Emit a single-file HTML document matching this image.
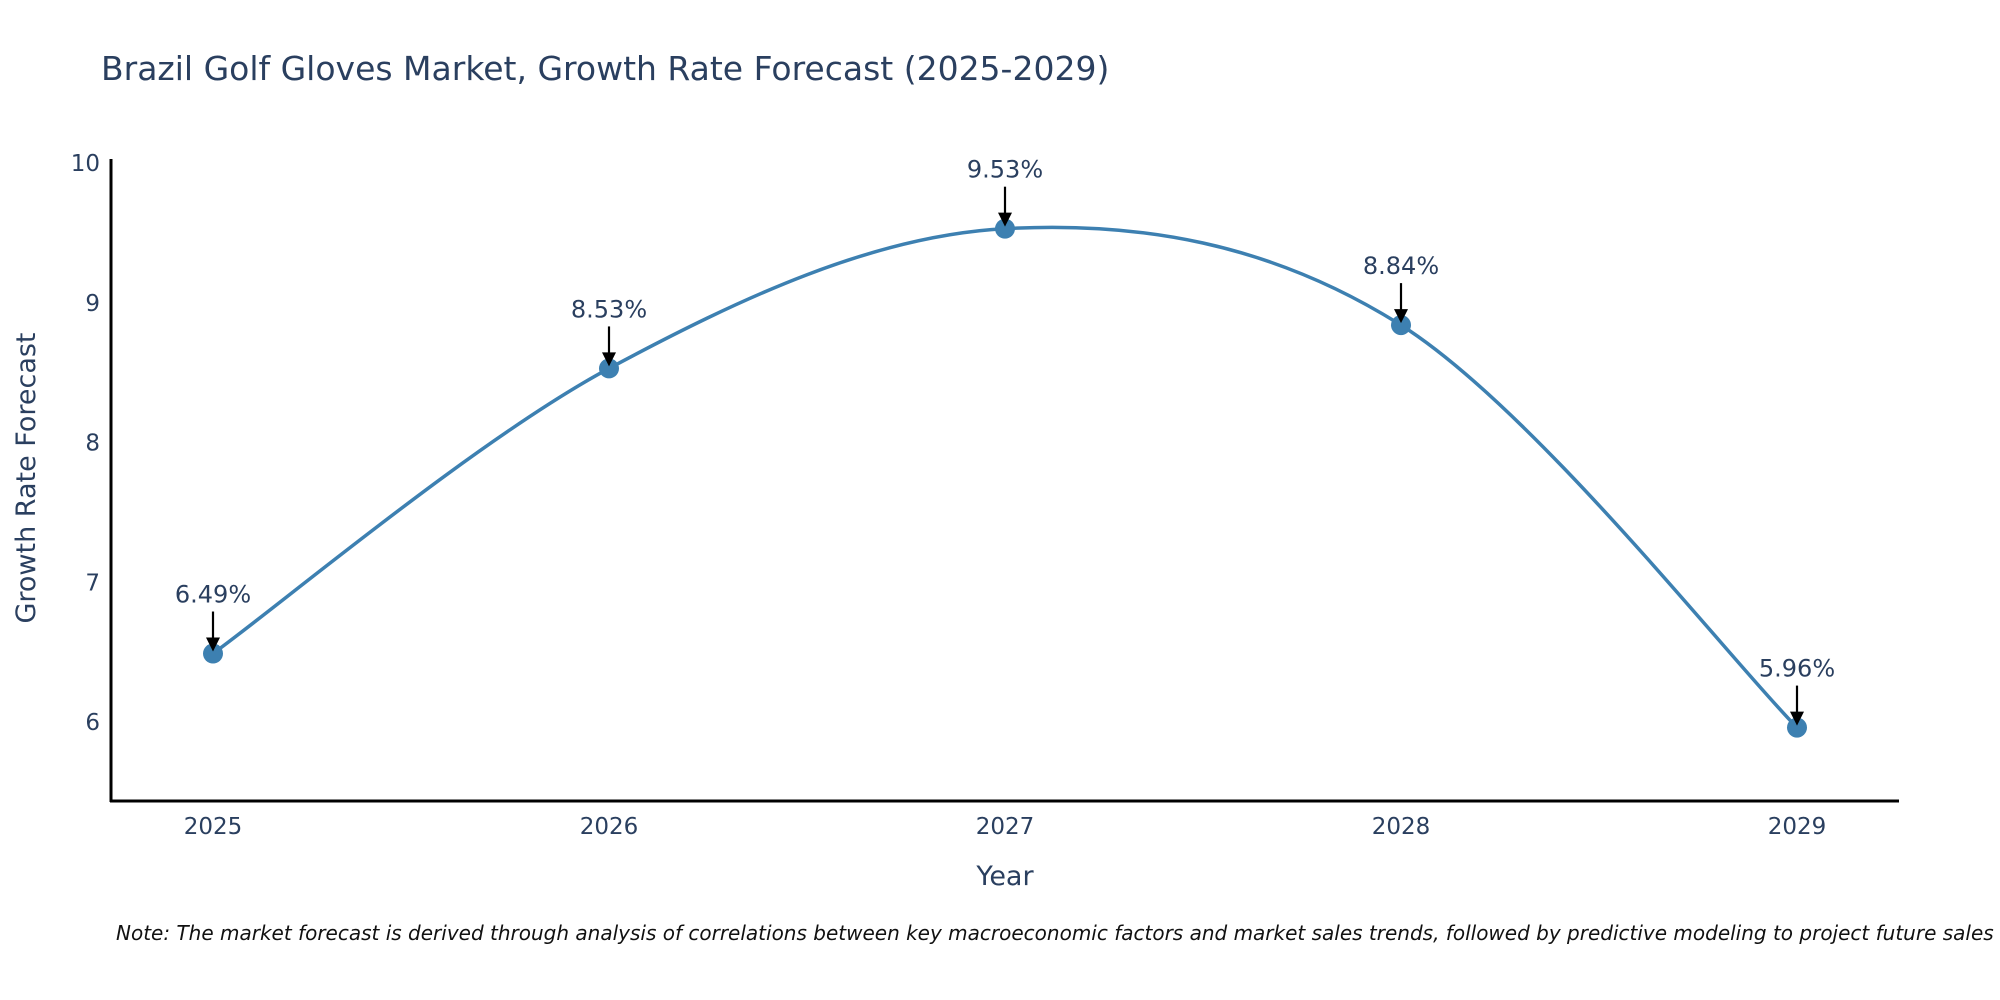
<!DOCTYPE html>
<html><head><meta charset="utf-8"><style>
html,body{margin:0;padding:0;background:#fff;}
svg{display:block;font-family:"DejaVu Sans","Liberation Sans",sans-serif;}
</style></head><body>
<svg id="chart" width="2000" height="1000" viewBox="0 0 2000 1000">
<text x="101" y="80" font-size="33" fill="#2a3f5f">Brazil Golf Gloves Market, Growth Rate Forecast (2025-2029)</text>
<g id="yticks"></g>
<g id="xticks"></g>
<line x1="111" y1="159" x2="111" y2="802" stroke="#000" stroke-width="3"/>
<line x1="110" y1="801" x2="1899" y2="801" stroke="#000" stroke-width="3"/>
<path id="line" fill="none" stroke="#3d80b1" stroke-width="3.5"/>
<g id="points"></g>
<text x="1005" y="885" font-size="27" fill="#2a3f5f" text-anchor="middle">Year</text>
<text transform="translate(35,478) rotate(-90)" font-size="27" fill="#2a3f5f" text-anchor="middle">Growth Rate Forecast</text>
<text x="116" y="940" font-size="20" font-style="italic" fill="#111">Note: The market forecast is derived through analysis of correlations between key macroeconomic factors and market sales trends, followed by predictive modeling to project future sales</text>
</svg>
<script>
const years = [2025, 2026, 2027, 2028, 2029];
const values = [6.49, 8.53, 9.53, 8.84, 5.96];
const yTicks = [6, 7, 8, 9, 10];
const NS = "http://www.w3.org/2000/svg";
function xs(i){ return 213 + (1797-213) * (i/(years.length-1)); }
function ys(v){ return 163 + (10 - v) * 139.75; }
function mk(tag, attrs, parent){ const e=document.createElementNS(NS,tag); for(const k in attrs) e.setAttribute(k,attrs[k]); parent.appendChild(e); return e; }
const yt=document.getElementById('yticks');
yTicks.forEach(t=>{
  const e=mk('text',{x:100,y:ys(t)+8,'font-size':23,fill:'#2a3f5f','text-anchor':'end'},yt);
  
  
  e.textContent=t;
});
const xt=document.getElementById('xticks');
years.forEach((y,i)=>{
  const e=mk('text',{x:xs(i),y:834,'font-size':23,fill:'#2a3f5f','text-anchor':'middle'},xt);
  
  
  e.textContent=y;
});
const P=values.map((v,i)=>[xs(i),ys(v)]);
let d='M'+P[0][0]+','+P[0][1];
const s=1/6;
for(let i=0;i<P.length-1;i++){
  const p0=P[Math.max(i-1,0)],p1=P[i],p2=P[i+1],p3=P[Math.min(i+2,P.length-1)];
  const c1=[p1[0]+(p2[0]-p0[0])*s,p1[1]+(p2[1]-p0[1])*s];
  const c2=[p2[0]-(p3[0]-p1[0])*s,p2[1]-(p3[1]-p1[1])*s];
  d+=' C'+c1+' '+c2+' '+p2;
}
document.getElementById('line').setAttribute('d',d);
const pts=document.getElementById('points');
P.forEach((p,i)=>{
  const c=mk('circle',{cx:p[0],cy:p[1],r:10,fill:'#3d80b1'},pts);
  
  
  const l=mk('line',{x1:p[0],y1:p[1]-42,x2:p[0],y2:p[1]-14,stroke:'#000','stroke-width':2.2},pts);
  
  
  const a=mk('polygon',{points:(p[0]-7)+','+(p[1]-16)+' '+(p[0]+7)+','+(p[1]-16)+' '+p[0]+','+(p[1]-2),fill:'#000'},pts);
  
  
  const t=mk('text',{x:p[0],y:p[1]-51,'font-size':24,fill:'#2a3f5f','text-anchor':'middle'},pts);
  
  
  t.textContent=values[i].toFixed(2)+'%';
});
</script>
</body></html>
